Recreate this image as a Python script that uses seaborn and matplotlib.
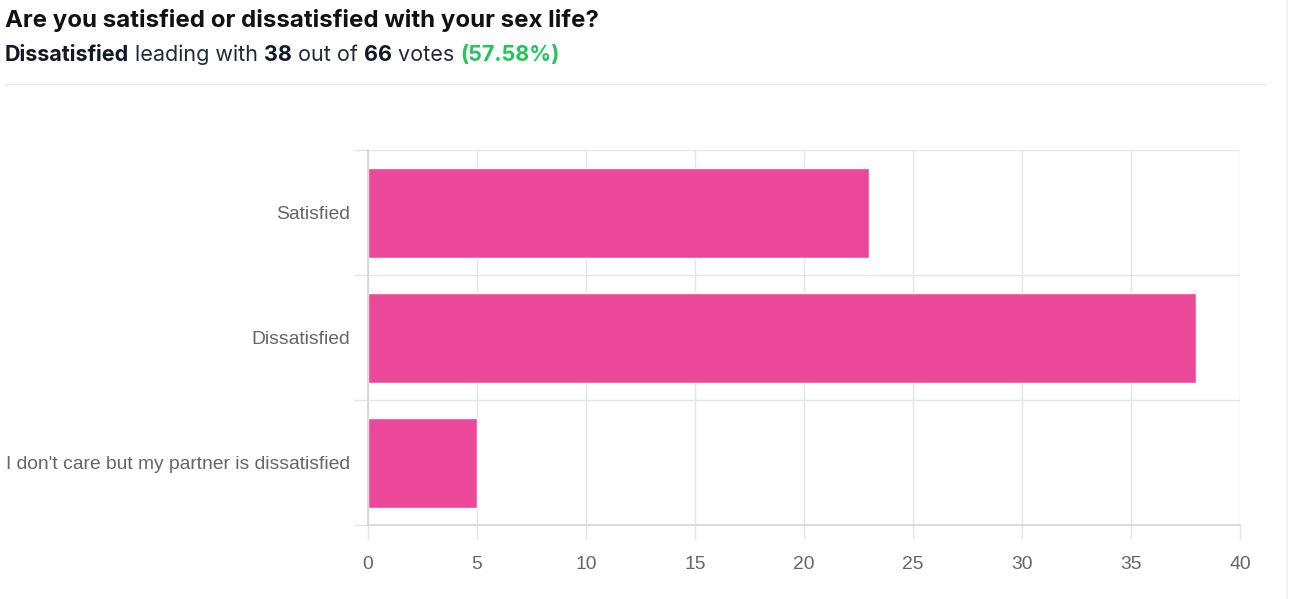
import matplotlib
matplotlib.use('Agg')
import matplotlib.pyplot as plt
import seaborn as sns
import pandas as pd
from matplotlib.lines import Line2D

# poll results
options = ['Satisfied', 'Dissatisfied', "I don't care but my partner is dissatisfied"]
votes = [23, 38, 5]
x_ticks = [0, 5, 10, 15, 20, 25, 30, 35, 40]

title = 'Are you satisfied or dissatisfied with your sex life?'
subtitle_parts = [('Dissatisfied', 'bold', '#111827'),
                  (' leading with ', 'normal', '#1f2937'),
                  ('38', 'bold', '#111827'),
                  (' out of ', 'normal', '#1f2937'),
                  ('66', 'bold', '#111827'),
                  (' votes ', 'normal', '#1f2937'),
                  ('(57.58%)', 'bold', '#22c55e')]

df = pd.DataFrame({'option': options, 'votes': votes})

sns.set_theme(style='white', rc={'xtick.bottom': True, 'ytick.left': True})
plt.rcParams['font.family'] = ['Liberation Sans', 'DejaVu Sans']

fig = plt.figure(figsize=(12.92, 5.99), dpi=100)
ax = fig.add_axes([368 / 1292, 1 - 525 / 599, (1240 - 368) / 1292, (525 - 150) / 599])

sns.barplot(data=df, x='votes', y='option', color='#ec4899', saturation=1,
            width=0.72, ax=ax, zorder=3)

ax.set_xlim(0, 40)
ax.set_ylim(2.5, -0.5)
ax.set_xticks(x_ticks)
ax.set_xlabel('')
ax.set_ylabel('')

grid_c = '#e5e5e5'
ax.set_yticks([-0.5, 0.5, 1.5, 2.5], minor=True)
ax.grid(True, axis='x', color=grid_c, linewidth=1, zorder=0)
ax.grid(True, axis='y', which='minor', color=grid_c, linewidth=1, zorder=0)
ax.tick_params(axis='y', which='major', length=0, pad=13, labelsize=13.9, labelcolor='#666666')
ax.tick_params(axis='y', which='minor', length=10, color=grid_c, width=1)
ax.tick_params(axis='x', length=10, color=grid_c, width=1, pad=12, labelsize=13.9, labelcolor='#666666')

for side in ['top', 'right']:
    ax.spines[side].set_visible(False)
for side in ['left', 'bottom']:
    ax.spines[side].set_color('#d4d4d4')
    ax.spines[side].set_linewidth(1.2)
    ax.spines[side].set_zorder(4)

# header
fig.text(5 / 1292, 1 - 20 / 599, title, fontsize=17.3, fontweight='bold', color='#111111',
         va='center', ha='left', family=['Inter', 'DejaVu Sans'])

renderer = fig.canvas.get_renderer()
x = 5 / 1292
for txt, weight, col in subtitle_parts:
    t = fig.text(x, 1 - 55 / 599, txt, fontsize=15.5, fontweight=weight, color=col,
                 va='center', ha='left', family=['Inter', 'DejaVu Sans'])
    bb = t.get_window_extent(renderer=renderer)
    x += bb.width / 1292

fig.add_artist(Line2D([5 / 1292, 1265 / 1292], [1 - 84 / 599] * 2, color='#e5e7eb', linewidth=1))
fig.add_artist(Line2D([1287 / 1292] * 2, [0, 1], color='#eeeeee', linewidth=1))

fig.savefig('out.png', dpi=100)
